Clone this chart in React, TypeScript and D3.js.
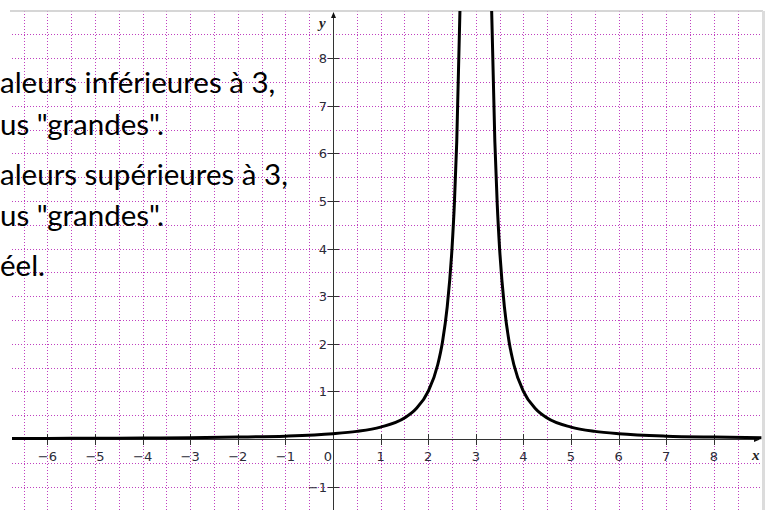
import React from "react";
import * as d3 from "d3";

// curve y = f(x), two branches around x = 3
const leftX = [-6.8, -6, -5, -4, -3, -2, -1, 0, 0.5, 1, 1.5, 1.75, 2, 2.2, 2.3, 2.4, 2.5, 2.55, 2.6, 2.667];
const leftY = [0.01, 0.012, 0.016, 0.02, 0.028, 0.04, 0.06, 0.11, 0.16, 0.25, 0.44, 0.64, 1.0, 1.56, 2.04, 2.78, 4.0, 4.94, 6.25, 9.0];
const rightX = [3.333, 3.4, 3.45, 3.5, 3.6, 3.7, 3.8, 4, 4.25, 4.5, 5, 5.5, 6, 7, 8, 9];
const rightY = [9.0, 6.25, 4.94, 4.0, 2.78, 2.04, 1.56, 1.0, 0.64, 0.44, 0.25, 0.16, 0.11, 0.06, 0.04, 0.028];

const xTicks = [-6, -5, -4, -3, -2, -1, 1, 2, 3, 4, 5, 6, 7, 8];
const yTicks = [-1, 1, 2, 3, 4, 5, 6, 7, 8];

const textLines = [
  "aleurs inférieures à 3,",
  "us \"grandes\".",
  "aleurs supérieures à 3,",
  "us \"grandes\".",
  "éel.",
];
const textBaselines = [93, 135, 185, 226, 276];

const W = 765;
const H = 510;
const unit = 47.6;
const x0 = 333;
const y0 = 439;

const App = () => {
  const x = d3.scaleLinear().domain([0, 1]).range([x0, x0 + unit]);
  const y = d3.scaleLinear().domain([0, 1]).range([y0, y0 - unit]);

  const left = 12;
  const right = 762;
  const top = 11;

  const line = d3.line<[number, number]>()
    .x(d => x(d[0]))
    .y(d => y(d[1]))
    .curve(d3.curveMonotoneX);

  const leftPts = leftX.map((v, i) => [v, leftY[i]] as [number, number]);
  const rightPts = rightX.map((v, i) => [v, rightY[i]] as [number, number]);

  // grid every half unit
  const vGrid = d3.range(-13, 18).map(k => k / 2).filter(v => x(v) > left && x(v) < right && v !== 0);
  const hGrid = d3.range(-2, 18).map(k => k / 2).filter(v => y(v) > top && y(v) < H && v !== 0);

  const gridColor = "#c040c0";
  const tickFont = "'DejaVu Sans', sans-serif";

  return (
    <svg width={W} height={H} style={{ position: "absolute", left: 0, top: 0, background: "#fff" }}>
      <defs>
        <clipPath id="plot">
          <rect x={left} y={top} width={right - left} height={H - top} />
        </clipPath>
      </defs>

      {/* dotted grid */}
      <g stroke={gridColor} strokeWidth={1} strokeDasharray="1 2">
        {vGrid.map(v => (
          <line key={"v" + v} x1={Math.round(x(v)) + 0.5} x2={Math.round(x(v)) + 0.5} y1={top} y2={H} />
        ))}
        {hGrid.map(v => (
          <line key={"h" + v} x1={left} x2={right} y1={Math.round(y(v)) + 0.5} y2={Math.round(y(v)) + 0.5} />
        ))}
      </g>

      {/* frame */}
      <line x1={10} x2={763} y1={top} y2={top} stroke="#c8c8c8" strokeWidth={1.5} />
      <rect x={762} y={top} width={3} height={H - top} fill="#dcdcdc" />

      {/* background text */}
      <g fontFamily="Lato, 'Open Sans', sans-serif" fontSize={29.5} fill="#000">
        {textLines.map((t, i) => (
          <text key={i} x={0} y={textBaselines[i]}>{t}</text>
        ))}
      </g>

      {/* axes */}
      <g stroke="#333" strokeWidth={1}>
        <line x1={left} x2={759} y1={y0 + 0.5} y2={y0 + 0.5} />
        <line x1={x0 + 0.5} x2={x0 + 0.5} y1={14} y2={H} />
        {xTicks.map(v => (
          <line key={"xt" + v} x1={Math.round(x(v)) + 0.5} x2={Math.round(x(v)) + 0.5} y1={y0 - 5} y2={y0 + 6} />
        ))}
        {yTicks.map(v => (
          <line key={"yt" + v} x1={x0 - 5} x2={x0 + 6} y1={Math.round(y(v)) + 0.5} y2={Math.round(y(v)) + 0.5} />
        ))}
      </g>
      <path d={`M${x0 + 0.5},${12} l-2.5,6 l5,0 z`} fill="#111" />
      <path d={`M${760},${y0 + 0.5} l-6,-2.5 l0,5 z`} fill="#111" />

      {/* tick labels */}
      <g fontFamily={tickFont} fontSize={13} fill="#2b2b38">
        {xTicks.map(v => (
          <text key={"xl" + v} x={x(v)} y={y0 + 22} textAnchor="middle">
            {v < 0 ? "\u2212" + Math.abs(v) : v}
          </text>
        ))}
        <text x={x0 - 5} y={y0 + 22} textAnchor="middle">0</text>
        {yTicks.map(v => (
          <text key={"yl" + v} x={x0 - 6} y={y(v) + 5} textAnchor="end">
            {v < 0 ? "\u2212" + Math.abs(v) : v}
          </text>
        ))}
      </g>
      <g fontFamily="'Liberation Serif', serif" fontStyle="italic" fontWeight="bold" fontSize={15} fill="#222">
        <text x={319} y={28}>y</text>
        <text x={752} y={460}>x</text>
      </g>

      {/* curve */}
      <g clipPath="url(#plot)" fill="none" stroke="#000" strokeWidth={3} strokeLinejoin="round">
        <path d={line(leftPts) ?? ""} />
        <path d={line(rightPts) ?? ""} />
      </g>
    </svg>
  );
};

export default App;
